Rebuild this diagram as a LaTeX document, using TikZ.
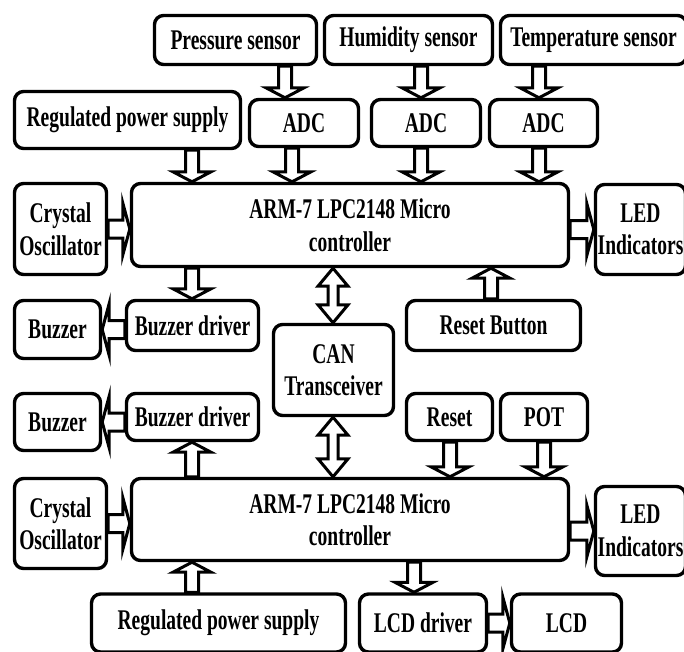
\documentclass[tikz,border=0pt]{standalone}
\usepackage{fontspec}
\setmainfont{Liberation Serif}[FakeStretch=0.685]
\usetikzlibrary{calc}
\begin{document}
\begin{tikzpicture}[x=1pt,y=-1pt,
  box/.style={draw, line width=3.4pt, rounded corners=9pt, align=center, inner sep=0pt,
    font=\bfseries\fontsize{28.5}{32.5}\selectfont},
  arr/.style={draw, line width=3pt},
  vh/.style={/utils/exec={\def\asw{6.5pt}\def\ahl{10pt}\def\ahw{19pt}}},
  hh/.style={/utils/exec={\def\asw{9pt}\def\ahl{7pt}\def\ahw{26pt}}},
  dh/.style={/utils/exec={\def\asw{5pt}\def\ahl{18pt}\def\ahw{15pt}}},
  barrow/.style={arr, to path={
    let \p1=(\tikztostart), \p2=(\tikztotarget), \p3=($(\p2)!\ahl!(\p1)$) in
    ($(\p1)!\asw!90:(\p2)$) -- ($(\p3)!\asw!90:(\p2)$) -- ($(\p3)!\ahw!90:(\p2)$) -- (\p2)
    -- ($(\p3)!\ahw!-90:(\p2)$) -- ($(\p3)!\asw!-90:(\p2)$) -- ($(\p1)!\asw!-90:(\p2)$) -- cycle}},
  dbarrow/.style={arr, to path={
    let \p1=(\tikztostart), \p2=(\tikztotarget), \p3=($(\p2)!\ahl!(\p1)$), \p4=($(\p1)!\ahl!(\p2)$) in
    (\p1) -- ($(\p4)!\ahw!90:(\p2)$) -- ($(\p4)!\asw!90:(\p2)$) -- ($(\p3)!\asw!90:(\p2)$)
    -- ($(\p3)!\ahw!90:(\p2)$) -- (\p2) -- ($(\p3)!\ahw!-90:(\p2)$) -- ($(\p3)!\asw!-90:(\p2)$)
    -- ($(\p4)!\asw!-90:(\p2)$) -- ($(\p4)!\ahw!-90:(\p2)$) -- cycle}}
]
\useasboundingbox (0,0) rectangle (684,651);

% boxes
\node[box, minimum width=162pt, minimum height=49pt] (psens) at (235.5,40) {Pressure sensor};
\node[box, minimum width=168pt, minimum height=49pt] (hsens) at (408.5,40) {Humidity sensor};
\node[box, minimum width=186pt, minimum height=49pt] (tsens) at (593.5,40) {Temperature sensor};
\node[box, minimum width=226pt, minimum height=57pt] (rps1) at (127.5,120) {Regulated power supply};
\node[box, minimum width=109pt, minimum height=47pt] (adc1) at (304,123) {ADC};
\node[box, minimum width=109pt, minimum height=47pt] (adc2) at (426,123) {ADC};
\node[box, minimum width=108pt, minimum height=47pt] (adc3) at (543.5,123) {ADC};
\node[box, minimum width=437pt, minimum height=83pt] (mcu1) at (350,225) {ARM-7 LPC2148 Micro\\controller};
\node[box, minimum width=92pt, minimum height=91pt] (xtal1) at (60.5,229) {Crystal\\Oscillator};
\node[box, minimum width=90pt, minimum height=90pt] (led1) at (640.5,229.5) {LED\\Indicators};
\node[box, minimum width=132pt, minimum height=50pt] (bzd1) at (192.5,325.5) {Buzzer driver};
\node[box, minimum width=86pt, minimum height=58pt] (bz1) at (57.5,329.5) {Buzzer};
\node[box, minimum width=120pt, minimum height=91pt] (can) at (333.5,370) {CAN\\Transceiver};
\node[box, minimum width=174pt, minimum height=50pt] (rstb) at (493.5,325.5) {Reset Button};
\node[box, minimum width=86pt, minimum height=57pt] (bz2) at (57.5,422) {Buzzer};
\node[box, minimum width=132pt, minimum height=47pt] (bzd2) at (192.5,417) {Buzzer driver};
\node[box, minimum width=86pt, minimum height=47pt] (rst) at (449.5,417) {Reset};
\node[box, minimum width=87pt, minimum height=47pt] (pot) at (544,417) {POT};
\node[box, minimum width=437pt, minimum height=82pt] (mcu2) at (350,519.5) {ARM-7 LPC2148 Micro\\controller};
\node[box, minimum width=92pt, minimum height=90pt] (xtal2) at (60.5,523.5) {Crystal\\Oscillator};
\node[box, minimum width=90pt, minimum height=89pt] (led2) at (640.5,531) {LED\\Indicators};
\node[box, minimum width=254pt, minimum height=58pt] (rps2) at (218.5,623) {Regulated power supply};
\node[box, minimum width=127pt, minimum height=58pt] (lcdd) at (423,623) {LCD driver};
\node[box, minimum width=110pt, minimum height=58pt] (lcd) at (566.5,623) {LCD};

% arrow columns
\coordinate (x192) at (192,0);
\coordinate (x285) at (285,0);
\coordinate (x292) at (292,0);
\coordinate (x333) at (333,0);
\coordinate (x414) at (414,0);
\coordinate (x421) at (421,0);
\coordinate (x450) at (450,0);
\coordinate (x491) at (491,0);
\coordinate (x539) at (539,0);
\coordinate (x544) at (544,0);

% vertical block arrows
\draw[barrow,vh] (x285 |- psens.south) to (x285 |- adc1.north);
\draw[barrow,vh] (x421 |- hsens.south) to (x421 |- adc2.north);
\draw[barrow,vh] (x539 |- tsens.south) to (x539 |- adc3.north);
\draw[barrow,vh] (x192 |- rps1.south) to (x192 |- mcu1.north);
\draw[barrow,vh] (x292 |- adc1.south) to (x292 |- mcu1.north);
\draw[barrow,vh] (x421 |- adc2.south) to (x421 |- mcu1.north);
\draw[barrow,vh] (x539 |- adc3.south) to (x539 |- mcu1.north);
\draw[barrow,vh] (x192 |- mcu1.south) to (x192 |- bzd1.north);
\draw[barrow,vh] (x491 |- rstb.north) to (x491 |- mcu1.south);
\draw[barrow,vh] (x192 |- mcu2.north) to (x192 |- bzd2.south);
\draw[barrow,vh] (x450 |- rst.south) to (x450 |- mcu2.north);
\draw[barrow,vh] (x544 |- pot.south) to (x544 |- mcu2.north);
\draw[barrow,vh] (x192 |- rps2.north) to (x192 |- mcu2.south);
\draw[barrow,vh] (x414 |- mcu2.south) to (x414 |- lcdd.north);

% double arrows to the CAN transceiver
\draw[dbarrow,dh] (x333 |- mcu1.south) to (x333 |- can.north);
\draw[dbarrow,dh] (x333 |- can.south) to (x333 |- mcu2.north);

% horizontal block arrows
\draw[barrow,hh] (xtal1.east) to (mcu1.west |- xtal1.east);
\draw[barrow,hh] (mcu1.east |- led1.west) to (led1.west);
\draw[barrow,hh] (bzd1.west |- bz1.east) to (bz1.east);
\draw[barrow,hh] (bzd2.west |- bz2.east) to (bz2.east);
\draw[barrow,hh] (xtal2.east) to (mcu2.west |- xtal2.east);
\draw[barrow,hh] (mcu2.east |- led2.west) to (led2.west);
\draw[barrow,hh] (lcdd.east) to (lcd.west |- lcdd.east);
\end{tikzpicture}
\end{document}
